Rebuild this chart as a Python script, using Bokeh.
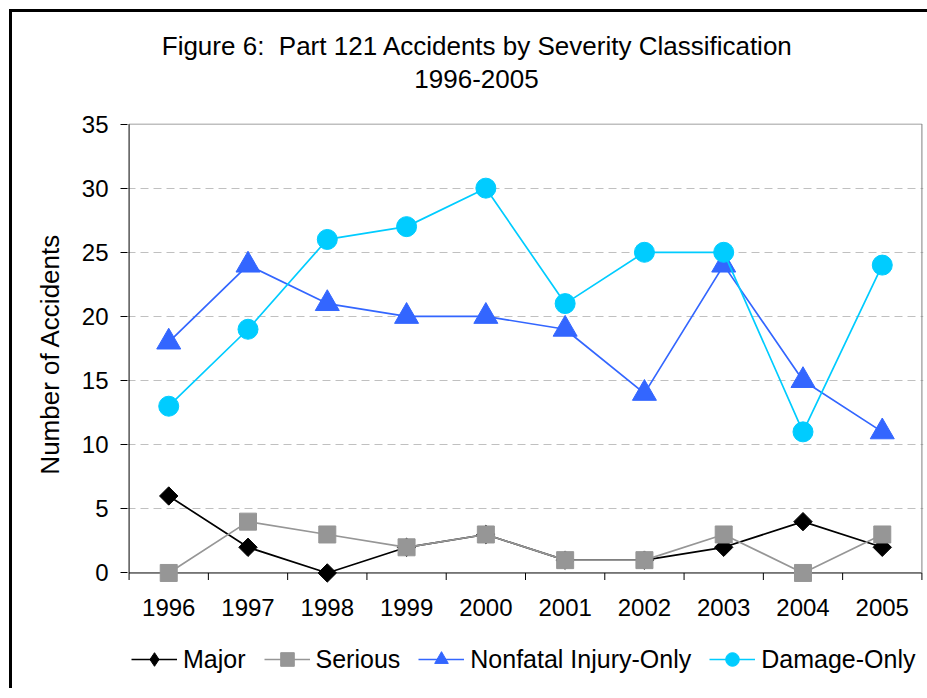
import math
from bokeh.plotting import figure
from bokeh.layouts import column
from bokeh.models import Range1d, FixedTicker, Legend, LegendItem
from bokeh.core.properties import value
from bokeh.embed import file_html
from bokeh.resources import INLINE

# ---- data ----
years = ["1996", "1997", "1998", "1999", "2000", "2001", "2002", "2003", "2004", "2005"]
major = [6, 2, 0, 2, 3, 1, 1, 2, 4, 2]
serious = [0, 4, 3, 2, 3, 1, 1, 3, 0, 3]
nonfatal = [18, 24, 21, 20, 20, 19, 14, 24, 15, 11]
damage = [13, 19, 26, 27, 30, 21, 25, 25, 11, 24]
y_ticks = [0, 5, 10, 15, 20, 25, 30, 35]
series_names = ["Major", "Serious", "Nonfatal Injury-Only", "Damage-Only"]
title_lines = ["Figure 6:\u00a0 Part 121 Accidents by Severity Classification", "1996-2005"]
y_label = "Number of Accidents"

FONT = "Liberation Sans"
LEFT, RIGHT = 115, 4
FW, FH = 796, 461
n = len(years)
x = list(range(1, n + 1))
lo, hi = 0.5, n + 0.5
ymax = y_ticks[-1]
ymin = -0.9
TICK_DATA = 0.55  # x tick length (about 7px) in data units
colors = ["black", "#969696", "#3366FF", "#00CCFF"]
series = [major, serious, nonfatal, damage]

# ---------- title strip (x in canvas pixels) ----------
TH = 91
pt = figure(frame_width=FW, frame_height=TH, output_backend="svg", toolbar_location=None,
            x_range=Range1d(LEFT, LEFT + FW), y_range=Range1d(0, TH),
            min_border_left=LEFT, min_border_right=RIGHT, min_border_top=0, min_border_bottom=0,
            x_axis_location=None, y_axis_location=None)
pt.grid.visible = False
pt.outline_line_color = None
pt.text(x=[465, 464], y=[TH - 33, TH - 66], text=title_lines,
        text_align="center", text_baseline="middle", text_color="black",
        text_font=value(FONT), text_font_size="26px")

# ---------- main chart ----------
p = figure(frame_width=FW, frame_height=FH, output_backend="svg", toolbar_location=None,
           x_range=Range1d(lo - 0.02, hi + 0.02), y_range=Range1d(ymin, ymax + 0.04),
           min_border_left=LEFT, min_border_top=20, min_border_right=RIGHT, min_border_bottom=48,
           background_fill_color="white", border_fill_color="white")
p.outline_line_color = None

p.xgrid.visible = False
p.ygrid.ticker = FixedTicker(ticks=y_ticks[1:-1])
p.ygrid.grid_line_color = "#c0c0c0"
p.ygrid.grid_line_dash = "8 5"
p.ygrid.grid_line_width = 1

xa = p.xaxis[0]
xa.ticker = FixedTicker(ticks=x)
xa.major_label_overrides = {i: y for i, y in zip(x, years)}
xa.major_tick_out = 0
xa.major_tick_in = 0
xa.minor_tick_line_color = None
xa.axis_line_color = None
xa.major_label_text_font = FONT
xa.major_label_text_font_size = "24px"
xa.major_label_text_color = "black"
xa.major_label_standoff = 14

ya = p.yaxis[0]
ya.ticker = FixedTicker(ticks=y_ticks)
ya.axis_line_color = None
ya.major_tick_out = 7
ya.major_tick_in = 0
ya.major_tick_line_color = "black"
ya.minor_tick_line_color = None
ya.major_label_text_font = FONT
ya.major_label_text_font_size = "24px"
ya.major_label_text_color = "black"
ya.major_label_standoff = 12
ya.axis_label = y_label
ya.axis_label_text_font = FONT
ya.axis_label_text_font_size = "26px"
ya.axis_label_text_font_style = "normal"
ya.axis_label_text_color = "black"
ya.axis_label_standoff = 14

# plot-area border lines, x-axis line at zero and category-boundary ticks
p.segment(x0=[lo, lo], y0=[0, 0], x1=[lo, hi], y1=[ymax, 0], line_color="black", line_width=1)
p.segment(x0=[lo, hi], y0=[ymax, 0], x1=[hi, hi], y1=[ymax, ymax], line_color="#808080", line_width=1)
bounds = [i + 0.5 for i in range(0, n + 1)]
p.segment(x0=bounds, y0=[0] * len(bounds), x1=bounds, y1=[-TICK_DATA] * len(bounds),
          line_color="black", line_width=1)

p.line(x, major, line_color=colors[0], line_width=1.7)
p.scatter(x, major, marker="square", angle=math.pi / 4, size=13, color=colors[0])
p.line(x, serious, line_color=colors[1], line_width=1.7)
p.scatter(x, serious, marker="square", size=17, color=colors[1])
p.line(x, nonfatal, line_color=colors[2], line_width=1.7)
p.scatter(x, nonfatal, marker="triangle", size=24, color=colors[2])
p.line(x, damage, line_color=colors[3], line_width=1.7)
p.scatter(x, damage, marker="circle", size=20, color=colors[3])

# ---------- legend strip (same series, kept out of its view; only the keys show) ----------
LH = 56
pl = figure(frame_width=FW, frame_height=LH, output_backend="svg", toolbar_location=None,
            x_range=Range1d(-2, -1), y_range=Range1d(0, 1),
            min_border_left=LEFT, min_border_right=RIGHT, min_border_top=0, min_border_bottom=0,
            x_axis_location=None, y_axis_location=None)
pl.grid.visible = False
pl.outline_line_color = None
markers = ["diamond", "square", "triangle", "circle"]
items = []
for name, c, m, ys in zip(series_names, colors, markers, series):
    lr = pl.line(x, ys, line_color=c, line_width=1.7)
    sr = pl.scatter(x, ys, marker=m, size=0, color=c)
    items.append(LegendItem(label=name, renderers=[lr, sr]))
legend = Legend(items=items, orientation="horizontal", location=(4, 12),
                border_line_color=None, background_fill_alpha=0,
                label_text_font=FONT, label_text_font_size="25px", label_text_color="black",
                glyph_width=46, glyph_height=34, label_standoff=6, spacing=18,
                padding=0, margin=0)
pl.add_layout(legend, "center")

layout = column(pt, p, pl, spacing=0,
                styles={"border-left": "3px solid black", "border-top": "3px solid black",
                        "margin-left": "9px", "margin-top": "9px"})

open("out.html", "w").write(file_html(layout, INLINE))
